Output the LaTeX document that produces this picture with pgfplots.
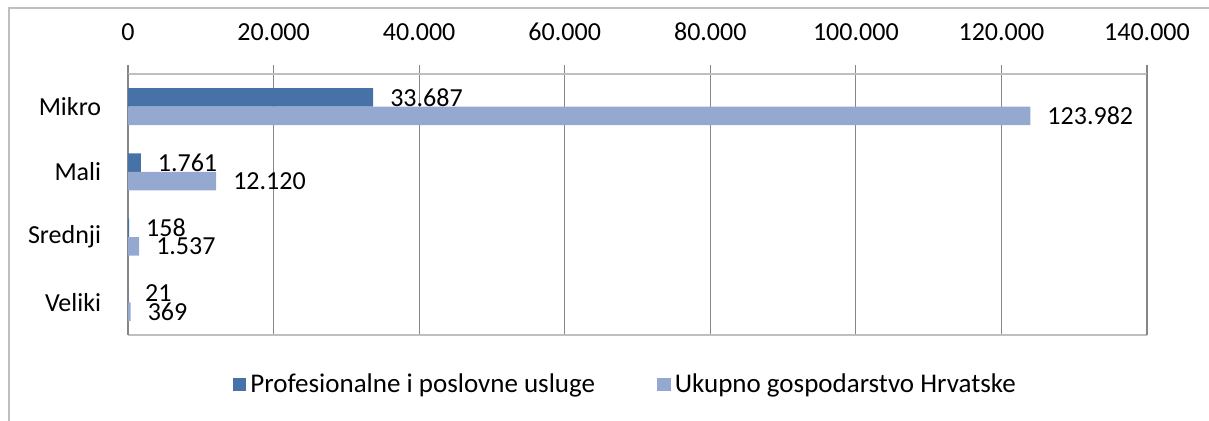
\documentclass[border=0pt]{standalone}
\usepackage{pgfplots}
\pgfplotsset{compat=1.18}
\usepackage{pgfplotstable}
\usepackage{fontspec}
\setmainfont{Carlito}
\definecolor{darkbar}{HTML}{4672A8}
\definecolor{lightbar}{HTML}{95A9D0}
\definecolor{gridc}{HTML}{868686}
\definecolor{framec}{HTML}{BFBFBF}
\pgfplotstableread{
y x lab
0 33687 33.687
1 1761 1.761
2 158 158
3 21 21
}\seriesA
\pgfplotstableread{
y x lab
0 123982 123.982
1 12120 12.120
2 1537 1.537
3 369 369
}\seriesB
\begin{document}
\fontsize{13}{15.6}\selectfont
\begin{tikzpicture}
\useasboundingbox (0pt,0pt) rectangle (604.5pt,-210.5pt);
\draw[framec, line width=0.6pt] (4.5pt,-210.5pt) -- (4.5pt,-4pt) -- (604.5pt,-4pt);
\begin{axis}[
  at={(64pt,-37pt)}, anchor=north west,
  scale only axis, width=509.5pt, height=130.5pt,
  xmin=0, xmax=140000, ymin=-0.5, ymax=3.5,
  y dir=reverse,
  xbar, bar width=9.25pt,
  xtick={0,20000,...,140000},
  xticklabels={0,20.000,40.000,60.000,80.000,100.000,120.000,140.000},
  xtick pos=right, xticklabel pos=right,
  ytick={0,1,2,3}, yticklabels={Mikro,Mali,Srednji,Veliki},
  minor ytick={-0.5,0.5,1.5,2.5,3.5},
  ytick pos=left,
  tick align=outside,
  major tick length=4.5pt, minor tick length=4.5pt,
  ytick style={draw=none},
  minor tick style={draw=gridc, line width=0.6pt},
  xtick style={draw=gridc, line width=0.6pt},
  xmajorgrids, major grid style={draw=gridc, line width=0.6pt},
  axis line style={draw=framec, line width=0.8pt},
  separate axis lines,
  y axis line style={draw=gridc},
  x tick label style={font=\fontsize{13}{15.6}\selectfont, anchor=south},
  y tick label style={font=\fontsize{13}{15.6}\selectfont, anchor=east},
  xticklabel style={yshift=7.6pt},
  yticklabel style={xshift=-4.4pt},
  /pgf/number format/assume math mode=true,
  point meta=explicit symbolic,
  nodes near coords,
  nodes near coords style={font=\fontsize{13}{15.6}\selectfont, anchor=west, xshift=4pt, text=black},
  legend style={draw=none, fill=none, at={(0.489,-0.19)}, anchor=center,
    legend columns=2, font=\fontsize{13.5}{16}\selectfont,
    /tikz/every even column/.append style={column sep=29pt}},
  legend image code/.code={\fill[#1] (0pt,-3.4pt) rectangle (6.8pt,3.4pt);},
  clip=false,
]
\addplot[fill=darkbar, draw=none, bar shift=4.625pt] table[x=x, y=y, meta=lab] {\seriesA};
\addlegendentry{Profesionalne i poslovne usluge}
\addplot[fill=lightbar, draw=none, bar shift=-4.625pt] table[x=x, y=y, meta=lab] {\seriesB};
\addlegendentry{Ukupno gospodarstvo Hrvatske}
\end{axis}
\end{tikzpicture}
\end{document}
